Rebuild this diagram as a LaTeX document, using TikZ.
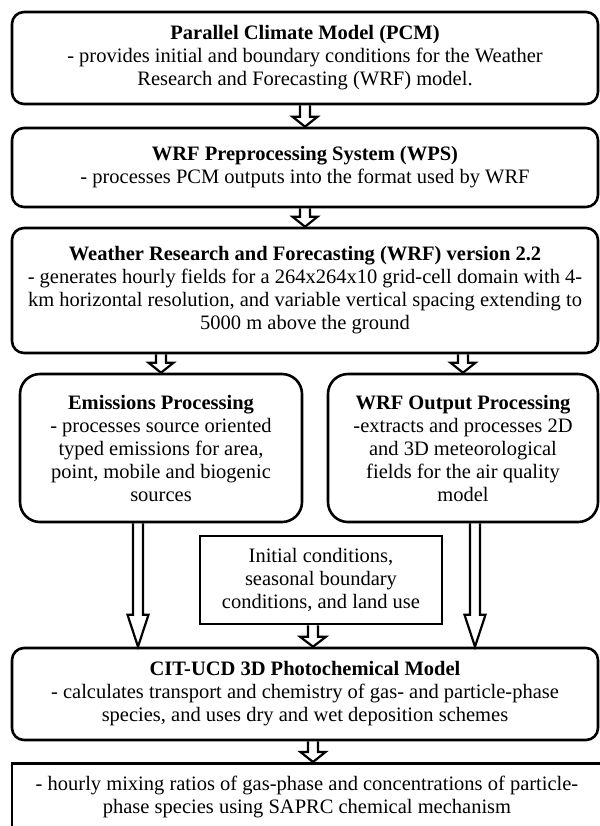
\documentclass[tikz,border=0pt]{standalone}
\usepackage{fontspec}
\setmainfont{Liberation Serif}
\usetikzlibrary{calc}
\newcommand\boxfont{\fontsize{10.25pt}{11.5pt}\selectfont}
\tikzset{
	widebox/.style={draw, line width=1.3pt, rounded corners=6pt, align=center, minimum width=293pt, inner sep=2pt, font=\boxfont},
	sidebox/.style={draw, line width=1.3pt, rounded corners=10pt, align=center, inner sep=2pt, font=\boxfont},
	plainbox/.style={draw, line width=1.3pt, align=center, inner sep=2pt, font=\boxfont},
	hollow/.style={line width=1.1pt, line join=miter}
}
\def\hollowarrow(#1)(#2)#3#4{\draw[hollow] ($(#1)+(-5,0)$) -- ($(#1 |- #2)+(-5,-#3)$) -- ($(#1 |- #2)+(-#4,-#3)$) -- (#1 |- #2) -- ($(#1 |- #2)+(#4,-#3)$) -- ($(#1 |- #2)+(5,-#3)$) -- ($(#1)+(5,0)$);}

\begin{document}
\begin{tikzpicture}[x=0.5pt, y=-0.5pt]
		%%%%% START %%%%%
		\useasboundingbox (0,0) rectangle (600,826);
		
		\node[widebox, minimum height=46pt] (pcm) at (305,58) {\textbf{Parallel Climate Model (PCM)}\\ - provides initial and boundary conditions for the Weather\\ Research and Forecasting (WRF) model.};
		\node[widebox, minimum height=39.5pt] (wps) at (305,167.5) {\textbf{WRF Preprocessing System (WPS)}\\ - processes PCM outputs into the format used by WRF};
		\node[widebox, minimum height=62.5pt] (wrf) at (305,290.5) {\textbf{Weather Research and Forecasting (WRF) version 2.2}\\ - generates hourly fields for a 264x264x10 grid-cell domain with 4-\\ km horizontal resolution, and variable vertical spacing extending to\\ 5000 m above the ground};
		
		\node[sidebox, minimum width=141pt, minimum height=74pt] (emis) at (161,448) {\textbf{Emissions Processing}\\ - processes source oriented\\ typed emissions for area,\\ point, mobile and biogenic\\ sources};
		\node[sidebox, minimum width=135pt, minimum height=74pt] (wrfout) at (463,448) {\textbf{WRF Output Processing}\\ -extracts and processes 2D\\ and 3D meteorological\\ fields for the air quality\\ model};
		
		\node[plainbox, minimum width=121pt, minimum height=44pt] (init) at (321,580) {Initial conditions,\\ seasonal boundary\\ conditions, and land use};
		
		\node[widebox, minimum height=46pt] (cit) at (305,694) {\textbf{CIT-UCD 3D Photochemical Model}\\ - calculates transport and chemistry of gas- and particle-phase\\ species, and uses dry and wet deposition schemes};
		\node[plainbox, anchor=north, minimum width=295pt, minimum height=34pt] (out) at (307,762) {- hourly mixing ratios of gas-phase and concentrations of particle-\\ phase species using SAPRC chemical mechanism};
		
		% arrows
		\coordinate (a1) at (wrf.south -| emis.north);
		\coordinate (a2) at (wrf.south -| wrfout.north);
		\coordinate (a3) at ($(emis.south)+(-23,0)$);
		\coordinate (a4) at ($(wrfout.south)+(12,0)$);
		\coordinate (a5) at ($(init.south)+(-8,0)$);
		\coordinate (a6) at ($(cit.south)+(8,0)$);
		
		\hollowarrow(pcm.south)(wps.north){10}{12.5}
		\hollowarrow(wps.south)(wrf.north){10}{12.5}
		\hollowarrow(a1)(emis.north){10}{12.5}
		\hollowarrow(a2)(wrfout.north){10}{12.5}
		\hollowarrow(a3)(cit.north){32}{10.5}
		\hollowarrow(a4)(cit.north){32}{10.5}
		\hollowarrow(a5)(cit.north){10}{13}
		\hollowarrow(a6)(out.north){10}{12.5}
		%%%%% END %%%%%
\end{tikzpicture}
\end{document}
